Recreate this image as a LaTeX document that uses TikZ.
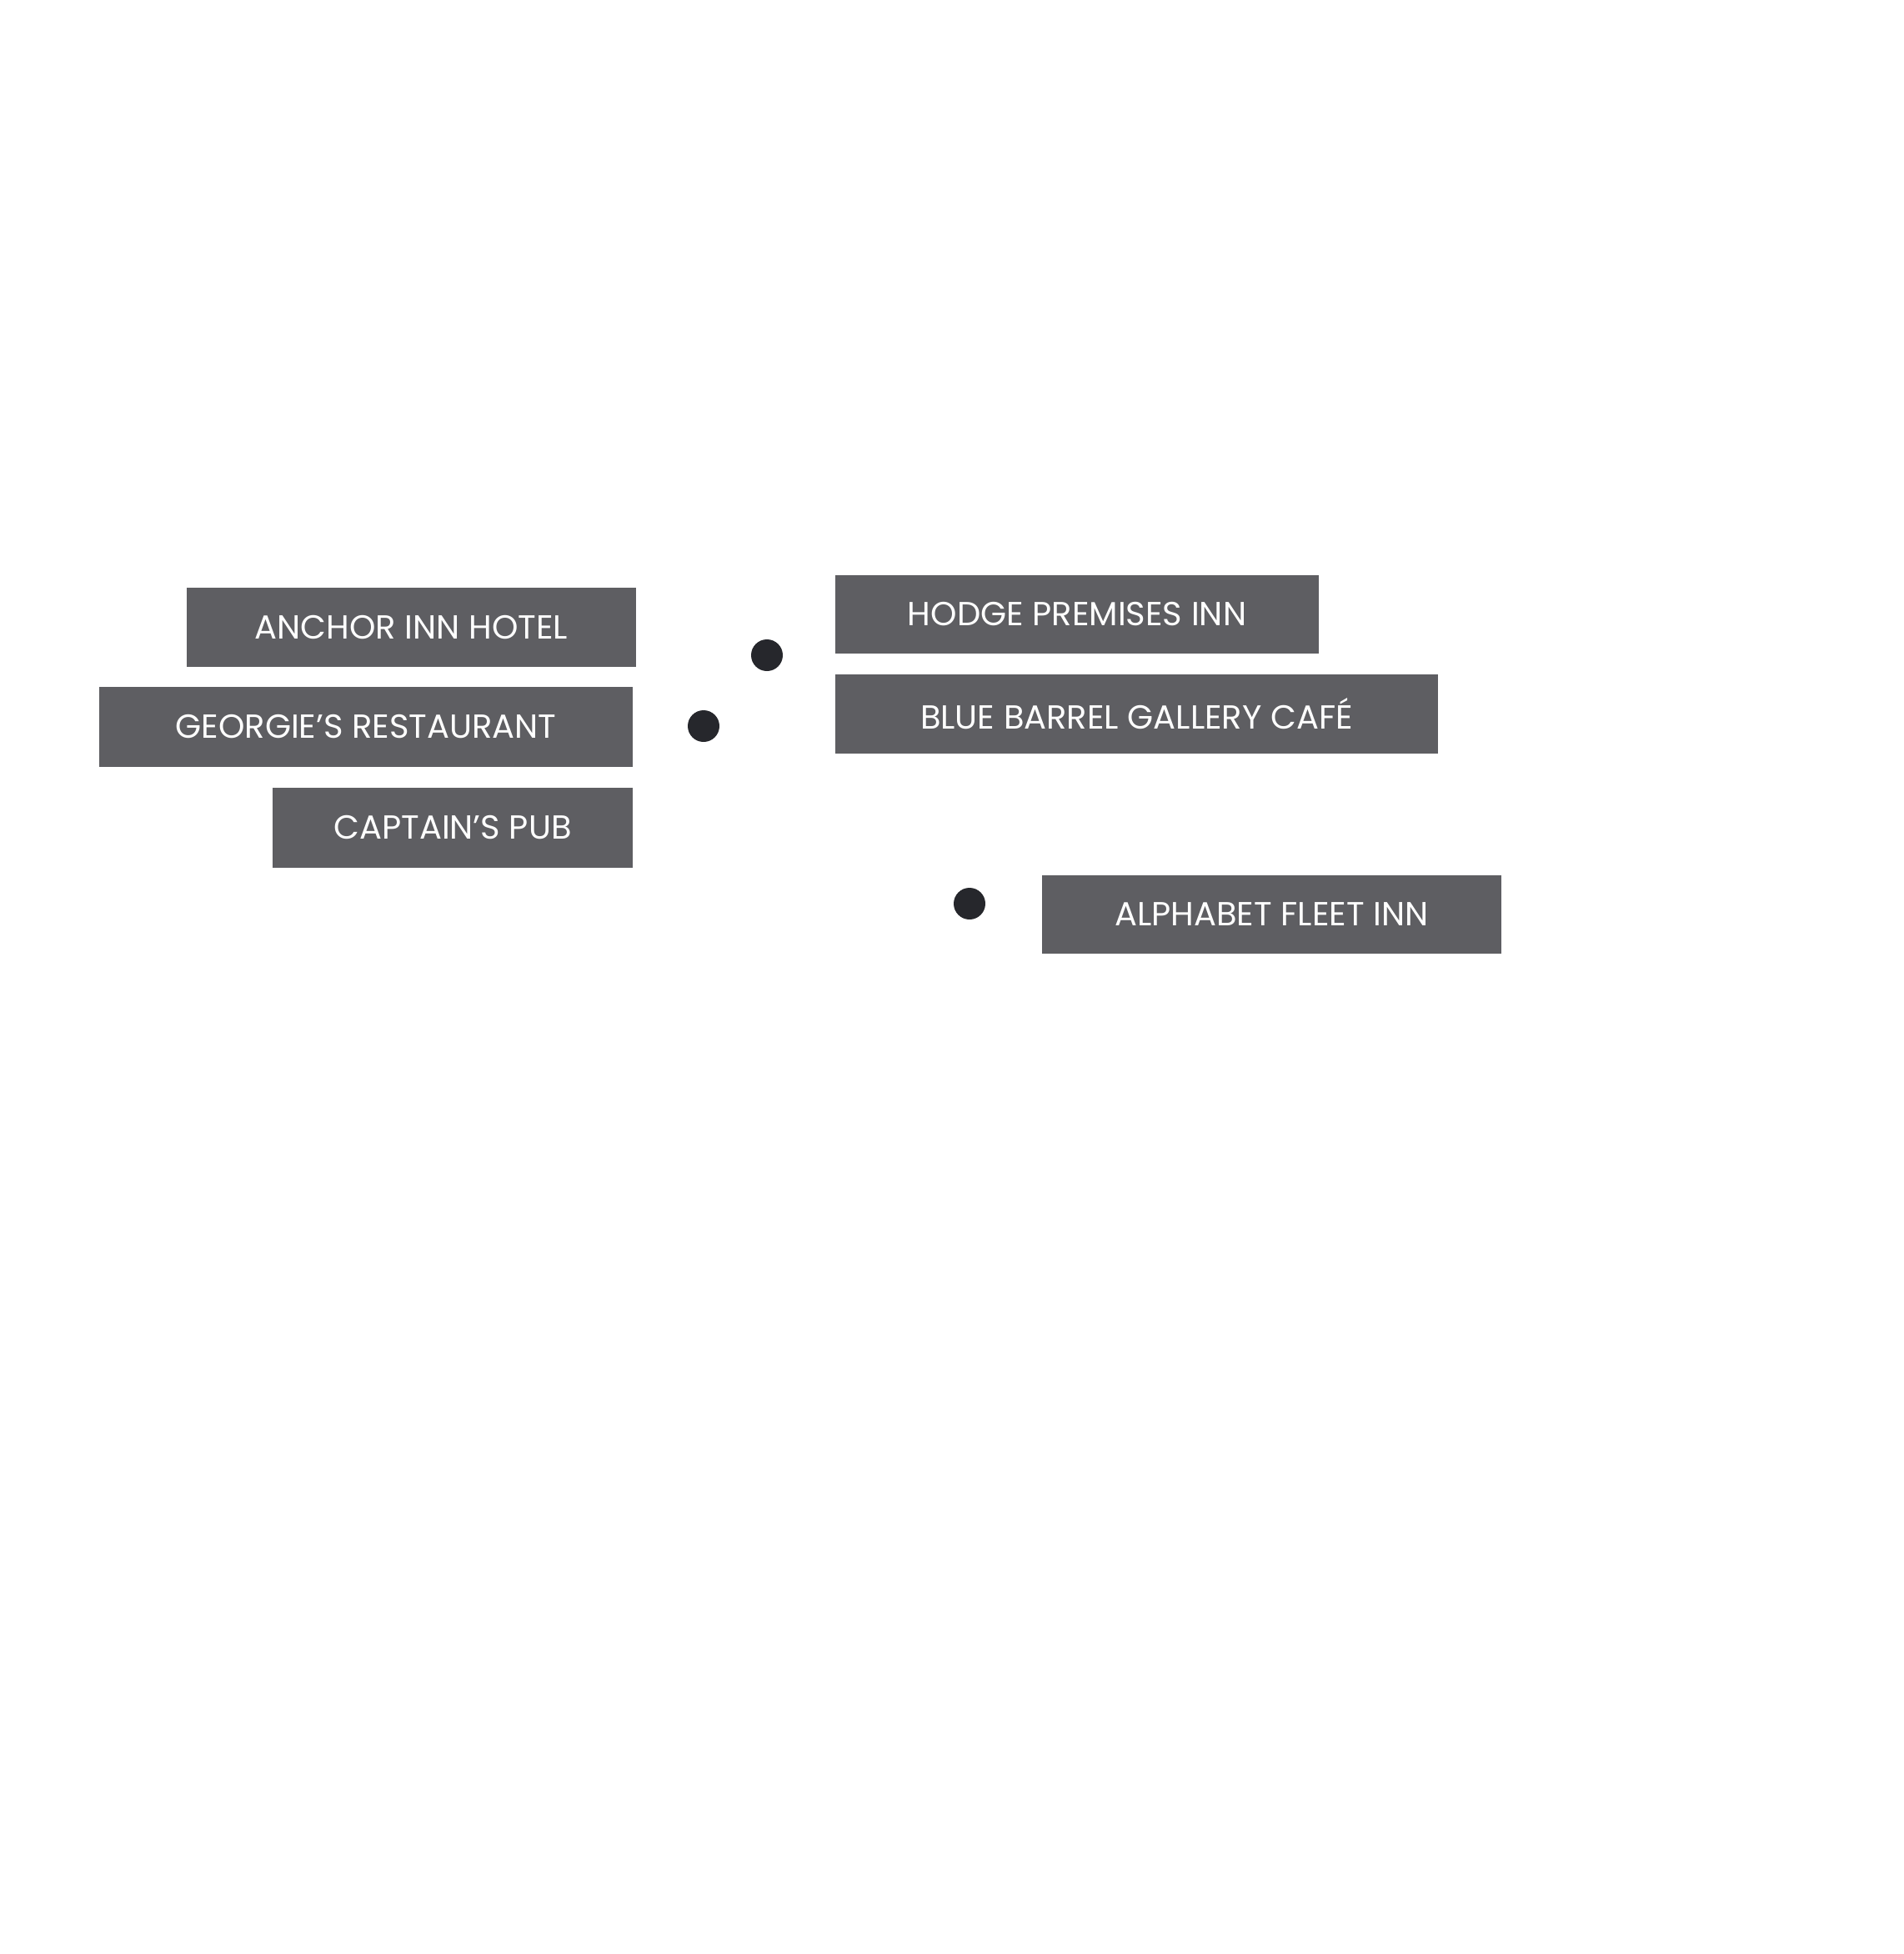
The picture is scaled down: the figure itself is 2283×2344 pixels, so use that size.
\documentclass[tikz,border=0pt]{standalone}
\usepackage{fontspec}
\setmainfont{Poppins}
\definecolor{boxg}{HTML}{5E5E62}
\definecolor{dotc}{HTML}{26272C}
\begin{document}
\begin{tikzpicture}[x=1pt,y=-1pt,
  lab/.style={fill=boxg,text=white,inner sep=0pt,font=\fontsize{40}{40}\selectfont},
  dot/.style={circle,fill=dotc,minimum size=38pt,inner sep=0pt}]
\useasboundingbox (0,0) rectangle (2283,2344);
\fill[white] (0,0) rectangle (2283,2344);
\node[lab,minimum width=539pt,minimum height=95pt] (anchor) at (493.5,752.5) {ANCHOR INN HOTEL};
\node[lab,minimum width=640pt,minimum height=96pt] (georgie) at (439,872) {GEORGIE’S RESTAURANT};
\node[lab,minimum width=432pt,minimum height=96pt] (captain) at (543,993) {CAPTAIN’S PUB};
\node[lab,minimum width=580pt,minimum height=94pt] (hodge) at (1292,737) {HODGE PREMISES INN};
\node[lab,minimum width=723pt,minimum height=95pt] (blue) at (1363.5,856.5) {BLUE BARREL GALLERY CAFÉ};
\node[lab,minimum width=551pt,minimum height=94pt] (alpha) at (1525.5,1097) {ALPHABET FLEET INN};
\node[dot] (d1) at (920,786) {};
\node[dot] (d2) at (844,871) {};
\node[dot] (d3) at (1163,1084) {};
\end{tikzpicture}
\end{document}
